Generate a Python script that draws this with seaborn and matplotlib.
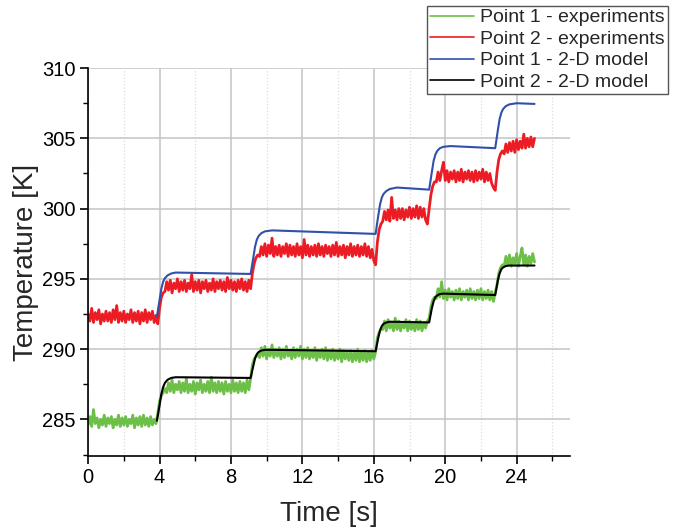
import numpy as np
import matplotlib
matplotlib.use("Agg")
import matplotlib.pyplot as plt
from matplotlib.ticker import MultipleLocator, AutoMinorLocator
import seaborn as sns

t_exp = np.linspace(0.0, 25.0, 251)

p1_exp = [
    # 0.0 - 3.8
    284.6, 285.2, 284.5, 285.7, 284.7, 285.1, 284.4, 285.0, 284.6, 285.3,
    284.5, 285.1, 284.7, 285.2, 284.4, 285.0, 284.6, 285.3, 284.5, 285.1,
    284.6, 285.2, 284.5, 285.0, 284.7, 285.3, 284.4, 285.1, 284.6, 285.2,
    284.5, 285.3, 284.6, 285.1, 284.5, 285.2, 284.6, 285.0, 284.7,
    # 3.9 - 4.3
    285.4, 286.3, 286.7, 286.9, 287.2,
    # 4.4 - 9.0
    286.9, 287.6, 287.0, 287.8, 286.9, 287.5, 287.1, 287.7, 286.9, 287.6,
    287.0, 287.9, 286.9, 287.5, 287.0, 287.7, 286.8, 287.6, 287.1, 287.8,
    286.9, 287.5, 287.0, 287.7, 286.9, 288.0, 287.0, 287.6, 286.9, 287.7,
    287.0, 287.6, 286.8, 287.7, 287.0, 287.5, 286.9, 287.8, 287.0, 287.6,
    286.9, 287.7, 287.0, 287.6, 286.9, 287.8, 287.1,
    # 9.1 - 9.5
    287.9, 288.9, 289.3, 289.5, 289.6,
    # 9.6 - 16.0
    289.4, 290.1, 289.5, 290.2, 289.3, 290.0, 289.5, 290.3, 289.4, 290.0,
    289.5, 290.1, 289.3, 290.0, 289.4, 290.2, 289.5, 289.9, 289.3, 290.1,
    289.4, 290.0, 289.5, 290.2, 289.3, 290.0, 289.4, 290.1, 289.3, 289.9,
    289.4, 290.1, 289.2, 289.9, 289.4, 290.0, 289.3, 290.1, 289.2, 289.9,
    289.3, 290.0, 289.2, 289.8, 289.3, 290.0, 289.1, 289.9, 289.3, 289.8,
    289.2, 289.9, 289.1, 289.8, 289.2, 290.0, 289.1, 289.8, 289.2, 289.9,
    289.1, 289.8, 289.2, 289.9, 289.3,
    # 16.1 - 16.4
    289.8, 290.8, 291.2, 291.4,
    # 16.5 - 19.0
    291.4, 292.0, 291.3, 292.1, 291.5, 291.9, 291.3, 292.2, 291.4, 292.0,
    291.3, 291.9, 291.5, 292.1, 291.3, 292.0, 291.4, 291.9, 291.3, 292.1,
    291.4, 292.0, 291.3, 291.9, 291.5, 292.0,
    # 19.1 - 19.4
    292.2, 293.0, 293.5, 293.7,
    # 19.5 - 22.8
    293.6, 294.3, 293.7, 294.8, 293.6, 294.2, 293.5, 294.3, 293.7, 294.1,
    293.5, 294.2, 293.6, 294.3, 293.5, 294.1, 293.7, 294.2, 293.5, 294.3,
    293.6, 294.1, 293.5, 294.2, 293.6, 294.3, 293.5, 294.1, 293.6, 294.2,
    293.5, 294.1, 293.4, 294.0,
    # 22.9 - 23.2
    294.6, 295.4, 295.8, 296.0,
    # 23.3 - 25.0
    295.9, 296.6, 296.0, 296.7, 295.9, 296.5, 296.1, 296.8, 295.9, 296.6,
    297.2, 296.0, 296.7, 295.9, 296.6, 296.1, 296.8, 296.2,
]

p2_exp = [
    # 0.0 - 3.8
    292.5, 292.0, 292.9, 291.9, 292.6, 292.1, 292.8, 291.8, 292.5, 292.0,
    292.7, 292.0, 292.6, 291.9, 292.8, 292.1, 293.1, 291.9, 292.6, 292.0,
    292.7, 291.9, 292.5, 292.1, 292.8, 291.9, 292.6, 292.0, 292.7, 291.8,
    292.6, 292.0, 292.8, 291.9, 292.6, 292.1, 292.7, 291.9, 292.4,
    # 3.9 - 4.2
    291.8, 292.9, 293.7, 294.0,
    # 4.3 - 9.0
    294.1, 294.8, 294.2, 294.9, 294.0, 294.7, 294.3, 295.0, 294.1, 294.8,
    294.2, 294.9, 294.1, 294.7, 294.3, 295.3, 294.1, 294.8, 294.2, 294.9,
    294.0, 294.8, 294.3, 294.9, 294.1, 294.7, 294.2, 295.0, 294.1, 294.8,
    294.3, 294.9, 294.2, 294.8, 294.1, 295.1, 294.3, 294.9, 294.2, 294.8,
    294.1, 294.9, 294.3, 295.0, 294.2, 294.8, 294.1, 294.9,
    # 9.1 - 9.5
    294.3, 295.4, 296.1, 296.5, 296.7,
    # 9.6 - 16.0
    296.6, 297.3, 296.7, 297.5, 296.6, 297.4, 296.8, 297.9, 296.6, 297.3,
    296.7, 297.4, 296.6, 297.3, 296.8, 297.5, 296.6, 297.4, 296.7, 297.3,
    296.6, 297.5, 296.7, 297.3, 296.5, 297.8, 296.7, 297.4, 296.6, 297.3,
    296.7, 297.4, 296.6, 297.5, 296.7, 297.3, 296.6, 297.4, 296.8, 297.3,
    296.6, 297.4, 296.7, 297.6, 296.6, 297.3, 296.7, 297.4, 296.5, 297.3,
    296.7, 297.5, 296.6, 297.3, 296.7, 297.4, 296.6, 297.3, 296.7, 297.5,
    296.6, 297.3, 296.5, 297.1, 296.3,
    # 16.1 - 16.4
    296.0, 297.6, 298.5, 298.9,
    # 16.5 - 19.0
    299.1, 299.8, 299.2, 299.9, 299.1, 300.8, 299.3, 299.9, 299.2, 300.0,
    299.3, 300.0, 299.2, 299.9, 299.4, 300.1, 299.3, 300.0, 299.4, 300.2,
    299.3, 300.1, 299.4, 300.0, 299.2, 298.9,
    # 19.1 - 19.4
    300.0, 301.0, 301.6, 301.9,
    # 19.5 - 22.7
    301.9, 302.6, 302.0, 302.7, 303.3, 302.0, 302.7, 301.9, 302.6, 302.1,
    302.7, 301.9, 302.6, 302.0, 302.8, 301.9, 302.6, 302.1, 302.7, 302.0,
    302.6, 301.9, 302.7, 302.0, 302.6, 302.1, 302.8, 301.9, 302.6, 302.0,
    302.5, 301.8, 301.5,
    # 22.8 - 23.2
    301.3, 302.6, 303.5, 303.9, 304.1,
    # 23.3 - 25.0
    303.9, 304.6, 304.0, 304.7, 304.1, 304.8, 304.0, 304.9, 304.2, 304.8,
    304.3, 305.3, 304.3, 305.0, 304.4, 305.1, 304.4, 305.0,
]

# 2-D model curves (breakpoints), start at the first step
t_blue = [3.85, 4.0, 4.1, 4.2, 4.3, 4.45, 4.65, 4.9, 9.1, 9.25, 9.35,
          9.45, 9.55, 9.7, 9.9, 10.3, 16.1, 16.25, 16.35, 16.45, 16.55, 16.7,
          16.9, 17.3, 19.1, 19.25, 19.35, 19.45, 19.55, 19.7, 19.9, 20.3,
          22.8, 22.95, 23.05, 23.15, 23.25, 23.4, 23.6, 24.0, 25.0]
T_blue = [292.3, 293.5, 294.3, 294.8, 295.05, 295.25, 295.38, 295.45,
          295.35, 296.5, 297.3, 297.8, 298.05, 298.25, 298.38, 298.45,
          298.2, 299.5, 300.3, 300.8, 301.05, 301.25, 301.4, 301.5,
          301.35, 302.6, 303.4, 303.85, 304.1, 304.3, 304.4, 304.45,
          304.3, 305.6, 306.4, 306.85, 307.1, 307.3, 307.42, 307.5, 307.45]

t_black = [3.85, 4.0, 4.1, 4.2, 4.3, 4.45, 4.65, 4.9, 9.1, 9.25, 9.35,
           9.45, 9.55, 9.7, 9.9, 10.3, 16.1, 16.25, 16.35, 16.45, 16.55, 16.7,
           16.9, 19.1, 19.25, 19.35, 19.45, 19.55, 19.7, 19.9, 22.8, 22.95,
           23.05, 23.15, 23.25, 23.4, 23.6, 25.0]
T_black = [284.9, 286.0, 286.8, 287.3, 287.6, 287.82, 287.95, 288.0,
           287.95, 288.8, 289.35, 289.65, 289.8, 289.9, 289.95, 289.95,
           289.85, 290.8, 291.35, 291.65, 291.8, 291.9, 291.95,
           291.9, 292.9, 293.4, 293.7, 293.82, 293.92, 293.95,
           293.85, 294.9, 295.4, 295.7, 295.82, 295.92, 295.95, 295.95]

labels = ["Point 1 - experiments", "Point 2 - experiments",
          "Point 1 - 2-D model", "Point 2 - 2-D model"]
colors = ["#6cbf47", "#ec1c24", "#3050aa", "#000000"]

sns.set_theme(style="ticks")
plt.rcParams["font.family"] = ["Liberation Sans", "DejaVu Sans"]

fig = plt.figure(figsize=(6.78, 5.32), dpi=100)
ax = fig.add_axes([0.130, 0.143, 0.711, 0.729])

sns.lineplot(x=t_exp, y=p1_exp, ax=ax, color=colors[0], lw=2.0, label=labels[0])
sns.lineplot(x=t_exp, y=p2_exp, ax=ax, color=colors[1], lw=2.0, label=labels[1])
sns.lineplot(x=t_blue, y=T_blue, ax=ax, color=colors[2], lw=1.5, label=labels[2])
sns.lineplot(x=t_black, y=T_black, ax=ax, color=colors[3], lw=1.5, label=labels[3])

ax.set_xlim(0, 27)
ax.set_ylim(282.4, 310)
ax.xaxis.set_major_locator(MultipleLocator(4))
ax.xaxis.set_minor_locator(AutoMinorLocator(2))
ax.yaxis.set_major_locator(MultipleLocator(5))
ax.yaxis.set_minor_locator(AutoMinorLocator(2))

ax.grid(which="major", color="#c4c4c4", lw=1.1)
ax.xaxis.grid(which="minor", color="#dcdcdc", lw=0.9, ls=":")
ax.set_axisbelow(True)

for side in ["top", "right"]:
    ax.spines[side].set_visible(False)
for side in ["left", "bottom"]:
    ax.spines[side].set_color("black")
    ax.spines[side].set_linewidth(1.2)

ax.tick_params(which="major", direction="out", length=6, width=1.2,
               labelsize=14.5, pad=3, colors="black")
ax.tick_params(which="minor", direction="out", length=3.5, width=1.0,
               colors="black")

ax.set_xlabel("Time [s]", fontsize=20, labelpad=10)
ax.set_ylabel("Temperature [K]", fontsize=20, labelpad=2)

handles, labs = ax.get_legend_handles_labels()
ax.get_legend().remove()
leg = fig.legend(handles, labs, loc="upper right", bbox_to_anchor=(0.985, 0.989),
                 fontsize=14, frameon=True, fancybox=False, edgecolor="#555555",
                 framealpha=1, handlelength=2.3, handletextpad=0.3,
                 borderpad=0.15, labelspacing=0.2, borderaxespad=0)
leg.get_frame().set_linewidth(1.0)
for h in leg.get_lines():
    h.set_linewidth(1.2)

fig.savefig("out.png", dpi=100)
